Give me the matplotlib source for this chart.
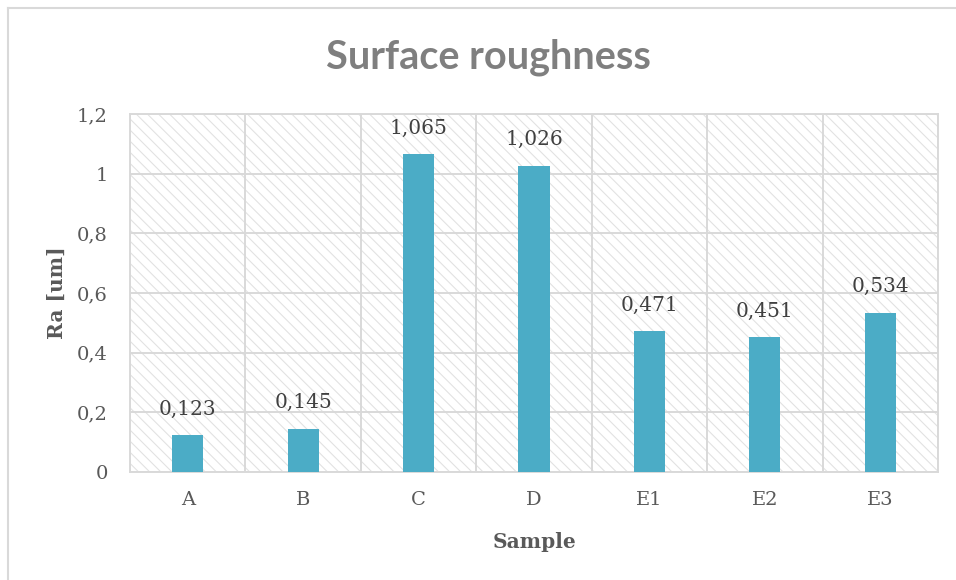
import matplotlib.pyplot as plt
from matplotlib.patches import Rectangle
from matplotlib.lines import Line2D
import numpy as np

# Data
samples = ["A", "B", "C", "D", "E1", "E2", "E3"]
ra_values = [0.123, 0.145, 1.065, 1.026, 0.471, 0.451, 0.534]
y_ticks = [0, 0.2, 0.4, 0.6, 0.8, 1.0, 1.2]

bar_color = "#4BACC6"
grid_color = "#d9d9d9"
text_color = "#595959"

plt.rcParams["hatch.linewidth"] = 0.8
plt.rcParams["hatch.color"] = "#e2e2e2"

fig = plt.figure(figsize=(9.56, 5.8), dpi=100)
ax = fig.add_axes([130 / 956, 108 / 580, 808 / 956, 358 / 580])

# hatched plot area background
bg = Rectangle((0, 0), 1, 1, transform=ax.transAxes, facecolor="white",
               edgecolor="#e2e2e2", hatch="\\\\\\", linewidth=0, zorder=0)
ax.add_patch(bg)

x = np.arange(len(samples))
bars = ax.bar(x, ra_values, width=0.27, color=bar_color, zorder=3)

def fmt(v):
    return f"{v:.3f}".replace(".", ",")

for xi, v in zip(x, ra_values):
    ax.annotate(fmt(v), (xi, v), xytext=(0, 12), textcoords="offset points",
                ha="center", va="bottom", fontsize=14.5, color="#404040",
                family="DejaVu Serif", zorder=4)

ax.set_xlim(-0.5, len(samples) - 0.5)
ax.set_ylim(0, 1.2)
ax.set_yticks(y_ticks)
ax.set_yticklabels([f"{t:g}".replace(".", ",") for t in y_ticks])
ax.set_xticks(x)
ax.set_xticklabels(samples)
ax.set_xticks(np.arange(-0.5, len(samples)), minor=True)

ax.grid(axis="y", which="major", color=grid_color, linewidth=1.4, zorder=1)
ax.grid(axis="x", which="minor", color=grid_color, linewidth=1.4, zorder=1)
ax.set_axisbelow(True)
for s in ax.spines.values():
    s.set_color(grid_color)
    s.set_linewidth(1.4)

ax.tick_params(axis="both", which="both", length=0, colors=text_color, labelsize=14)
ax.tick_params(axis="y", pad=16)
ax.tick_params(axis="x", pad=14)
for lbl in ax.get_xticklabels() + ax.get_yticklabels():
    lbl.set_family("DejaVu Serif")

ax.set_ylabel("Ra [um]", fontsize=14.5, fontweight="bold", color=text_color,
              family="DejaVu Serif", labelpad=7)
ax.set_xlabel("Sample", fontsize=14.5, fontweight="bold", color=text_color,
              family="DejaVu Serif", labelpad=16)

fig.text(488 / 956, 1 - 57 / 580, "Surface roughness", ha="center", va="center",
         fontsize=28.5, fontweight="bold", color="#7f7f7f", family="Lato")

# chart border (top and left edges visible)
fig.add_artist(Line2D([8 / 956, 1], [1 - 8 / 580, 1 - 8 / 580], color=grid_color, linewidth=1.5))
fig.add_artist(Line2D([8 / 956, 8 / 956], [0, 1 - 8 / 580], color=grid_color, linewidth=1.5))

fig.savefig("out.png", dpi=100)
